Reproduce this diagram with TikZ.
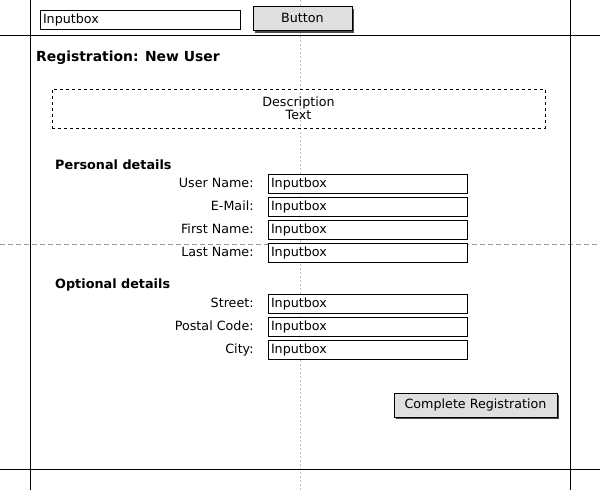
\documentclass[tikz,border=0pt]{standalone}
\usepackage{fontspec}
\setmainfont{DejaVu Sans}
\usetikzlibrary{positioning,shadows}

\begin{document}
\begin{tikzpicture}[x=1pt,y=-1pt,
    inputbox/.style={rectangle,draw=black,fill=white,minimum width=199pt,minimum height=19pt,inner xsep=3pt,inner ysep=0pt,
        text height=9.5pt,text depth=2.5pt,font=\fontsize{12.7}{14}\selectfont,text width=193pt,align=left},
    button/.style={rectangle,draw=black,fill=gray!25,minimum height=24pt,text height=9.5pt,text depth=2.5pt,font=\fontsize{12.7}{14}\selectfont,
        drop shadow={shadow xshift=2pt,shadow yshift=-2pt,fill=black!70,opacity=1}},
    lbl/.style={anchor=east,font=\fontsize{12.7}{14}\selectfont,inner sep=0pt,text height=9.5pt,text depth=2.5pt},
    head/.style={anchor=west,font=\bfseries\fontsize{12.8}{14}\selectfont,inner sep=0pt},
    guide/.style={draw=black,thin}]
    \useasboundingbox (0,0) rectangle (600,490);

    % guides
    \draw[gray!50,dashed,dash pattern=on 2pt off 2pt] (300,0) -- (300,490);
    \draw[gray!80,dashed,dash pattern=on 5pt off 3pt] (0,244) -- (600,244);
    \draw[guide] (30,0) -- (30,490);
    \draw[guide] (570,0) -- (570,490);
    \draw[guide] (0,35) -- (600,35);
    \draw[guide] (0,469) -- (600,469);

    % header
    \node[inputbox,minimum width=200pt,text width=194pt,minimum height=19pt] (search) at (140,19.5) {Inputbox};
    \node[button,minimum width=99pt] (go) at (302.5,18.5) {Button};

    \node[anchor=west,font=\bfseries\fontsize{13.9}{15}\selectfont,inner sep=0pt] (title) at (36,58) {Registration: New User};

    \node[rectangle,draw=black,dashed,minimum width=493pt,minimum height=39pt,align=center,inner sep=0pt,
        font=\fontsize{12.7}{13}\selectfont] (descr) at (298.5,108.5) {Description\\Text};

    % personal details
    \node[head] (pers) at (55,165) {Personal details};
    \foreach \name/\txt/\y in {user/User Name:/184,mail/E-Mail:/207,first/First Name:/230,last/Last Name:/253}{
        \node[inputbox] (in\name) at (367.5,\y) {Inputbox};
        \node[lbl,left=14pt of in\name] (l\name) {\txt};
    }

    % optional details
    \node[head] (opt) at (55,285) {Optional details};
    \foreach \name/\txt/\y in {street/Street:/304,code/Postal Code:/327,city/City:/350}{
        \node[inputbox] (in\name) at (367.5,\y) {Inputbox};
        \node[lbl,left=14pt of in\name] (l\name) {\txt};
    }

    \node[button,minimum width=163pt] (submit) at (475.5,405) {Complete Registration};
\end{tikzpicture}
\end{document}
